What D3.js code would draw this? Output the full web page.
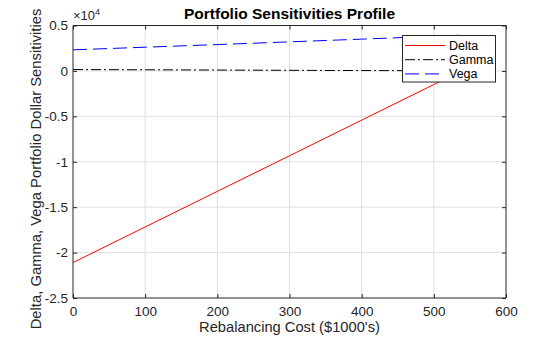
<!DOCTYPE html>
<html><head><meta charset="utf-8">
<script src="https://cdn.jsdelivr.net/npm/d3@7"></script>
<style>body{margin:0;background:#fff}svg{display:block;font-family:"Liberation Sans",Arial,sans-serif}</style>
</head><body><svg id="c" width="560" height="337"></svg>
<script>
const cost  = [0, 100, 200, 300, 400, 500, 535];
const delta = [-21100, -17180, -13260, -9340, -5420, -1500, -130];
const gamma = [150, 125, 95, 65, 40, 20, 10];
const vega  = [2320, 2610, 2900, 3200, 3500, 3810, 3920];
const xTicks = [0, 100, 200, 300, 400, 500, 600];
const yTicks = [5000, 0, -5000, -10000, -15000, -20000, -25000];
const yTickLabels = ["0.5", "0", "-0.5", "-1", "-1.5", "-2", "-2.5"];
const seriesNames = ["Delta", "Gamma", "Vega"];

const svg = d3.select("#c");
const L = 73, R = 506, T = 25.5, B = 298;
const x = d3.scaleLinear().domain([0, 600]).range([L, R]);
const y = d3.scaleLinear().domain([-25000, 5000]).range([B, T]);
const axisColor = "#262626";

// grid
svg.append("g").selectAll("line").data(xTicks.slice(1, -1)).join("line")
  .attr("x1", d => x(d)).attr("x2", d => x(d)).attr("y1", T).attr("y2", B)
  .attr("stroke", "#dfdfdf").attr("stroke-width", 1);
svg.append("g").selectAll("line").data(yTicks.slice(1, -1)).join("line")
  .attr("y1", d => y(d)).attr("y2", d => y(d)).attr("x1", L).attr("x2", R)
  .attr("stroke", "#dfdfdf").attr("stroke-width", 1);

// lines
const data = [
  {name: "Delta", vals: delta, color: "#ff0000", dash: null},
  {name: "Gamma", vals: gamma, color: "#000000", dash: "10,3,2,3"},
  {name: "Vega", vals: vega, color: "#0000ff", dash: "14,6"}
];
const line = d3.line().x((d, i) => x(cost[i])).y(d => y(d));
const g = svg.append("g");
data.forEach(s => {
  g.append("path").attr("d", line(s.vals)).attr("fill", "none")
    .attr("stroke", s.color).attr("stroke-width", 1)
    .attr("stroke-dasharray", s.dash);
});

// axes
const xb = d3.axisBottom(x).tickValues(xTicks).tickSize(-4).tickPadding(8);
const xt = d3.axisTop(x).tickValues(xTicks).tickSize(-4).tickFormat("");
const yl = d3.axisLeft(y).tickValues(yTicks).tickSize(-4).tickPadding(5)
  .tickFormat((d, i) => yTickLabels[i]);
const yr = d3.axisRight(y).tickValues(yTicks).tickSize(-4).tickFormat("");
function style(sel) {
  sel.selectAll("path").attr("stroke", axisColor);
  sel.selectAll("line").attr("stroke", axisColor);
  sel.selectAll("text").attr("fill", axisColor).style("font-size", "13.5px")
    .style("font-family", '"Liberation Sans",Arial,sans-serif');
}
svg.append("g").attr("transform", `translate(0,${B})`).call(xb).call(style).call(s => s.select(".domain").attr("d", `M${L},0H${R}`));
svg.append("g").attr("transform", `translate(0,${T})`).call(xt).call(style).call(s => s.select(".domain").attr("d", `M${L},0H${R}`));
svg.append("g").attr("transform", `translate(${L},0)`).call(yl).call(style).call(s => s.select(".domain").attr("d", `M0,${T}V${B}`));
svg.append("g").attr("transform", `translate(${R},0)`).call(yr).call(style).call(s => s.select(".domain").attr("d", `M0,${T}V${B}`));

// exponent
const ex = svg.append("text").attr("x", L).attr("y", 20).attr("fill", axisColor).style("font-size", "13px");
ex.append("tspan").text("×10");
ex.append("tspan").attr("dy", -5).style("font-size", "9px").text("4");

// title
svg.append("text").attr("x", (L + R) / 2).attr("y", 19).attr("text-anchor", "middle")
  .style("font-size", "15.5px").style("font-weight", "bold").attr("fill", "#000")
  .text("Portfolio Sensitivities Profile");
// x label
svg.append("text").attr("x", (L + R) / 2).attr("y", 332).attr("text-anchor", "middle")
  .style("font-size", "14.7px").attr("fill", axisColor).text("Rebalancing Cost ($1000's)");
// y label
svg.append("text").attr("transform", `translate(40.5,169) rotate(-90)`)
  .attr("text-anchor", "middle").style("font-size", "14.8px").attr("fill", axisColor)
  .text("Delta, Gamma, Vega Portfolio Dollar Sensitivities");

// legend
const lg = svg.append("g");
lg.append("rect").attr("x", 402.5).attr("y", 35.5).attr("width", 93).attr("height", 46.5)
  .attr("fill", "#fff").attr("stroke", axisColor).attr("stroke-width", 1);
data.forEach((s, i) => {
  const yy = 45.5 + i * 14.2;
  lg.append("line").attr("x1", 405).attr("x2", 445).attr("y1", yy).attr("y2", yy)
    .attr("stroke", s.color).attr("stroke-width", 1).attr("stroke-dasharray", s.dash);
  lg.append("text").attr("x", 449).attr("y", yy + 4.5).style("font-size", "12.5px")
    .attr("fill", "#000").text(seriesNames[i]);
});
</script></body></html>
